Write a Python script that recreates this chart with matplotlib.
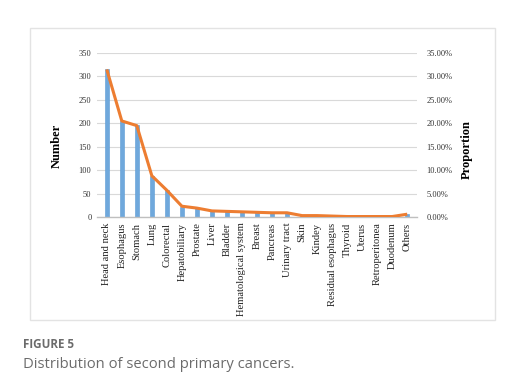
import matplotlib
matplotlib.use("Agg")
import matplotlib.pyplot as plt
from matplotlib.patches import Rectangle
from matplotlib.ticker import FuncFormatter

categories = ["Head and neck", "Esophagus", "Stomach", "Lung", "Colorectal",
              "Hepatobiliary", "Prostate", "Liver", "Bladder", "Hematological system",
              "Breast", "Pancreas", "Urinary tract", "Skin", "Kindey",
              "Residual esophagus", "Thyroid", "Uterus", "Retroperitonea", "Duodenum", "Others"]
numbers = [315, 205, 196, 88, 57, 22, 19, 13, 12, 11, 10, 9, 9, 3, 3, 2, 1, 1, 1, 1, 6]
proportions = [31.5, 20.5, 19.5, 8.8, 5.7, 2.3, 1.9, 1.3, 1.2, 1.1, 1.0, 0.9, 0.9,
               0.3, 0.3, 0.2, 0.1, 0.1, 0.1, 0.1, 0.6]

serif = ["Liberation Serif", "DejaVu Serif"]
fig = plt.figure(figsize=(5.21, 3.9), dpi=100)
fig.patch.set_facecolor("white")

fig.patches.append(Rectangle((30 / 521, 1 - 320 / 390), 465 / 521, 292 / 390,
                             transform=fig.transFigure, fill=False,
                             edgecolor="#e3e3e3", linewidth=1.0))

ax = fig.add_axes([97 / 521, 1 - 217 / 390, 320 / 521, 164 / 390])
x = list(range(len(categories)))
ax.bar(x, numbers, width=0.3, color="#6fa8dc", edgecolor="#5b9bd5", linewidth=0.4, zorder=2)
ax.set_ylim(0, 350)
ax.set_xlim(-0.65, len(categories) - 0.35)
ax.set_yticks(range(0, 351, 50))
ax.grid(axis="y", color="#d9d9d9", linewidth=0.8, zorder=0)
ax.set_axisbelow(True)
for s in ["top", "right", "left"]:
    ax.spines[s].set_visible(False)
ax.spines["bottom"].set_color("#bfbfbf")
ax.spines["bottom"].set_linewidth(1.0)
ax.tick_params(axis="both", length=0, pad=4)
ax.set_xticks(x)
ax.set_xticklabels(categories, rotation=90, fontfamily=serif, fontsize=7.6, color="#222222")
for lab in ax.get_yticklabels():
    lab.set_fontfamily(serif)
    lab.set_fontsize(6)
    lab.set_color("#333333")
ax.set_ylabel("Number", fontfamily=serif, fontsize=9, fontweight="bold")
ax.yaxis.set_label_coords(-0.106, 0.433)

ax2 = ax.twinx()
ax2.plot(x, proportions, color="#ed7d31", linewidth=2.2, zorder=3, solid_capstyle="butt")
ax2.set_ylim(0, 35)
ax2.set_yticks(range(0, 36, 5))
ax2.yaxis.set_major_formatter(FuncFormatter(lambda v, p: f"{v:.2f}%"))
for s in ["top", "right", "left", "bottom"]:
    ax2.spines[s].set_visible(False)
ax2.tick_params(axis="y", length=0, pad=7)
for lab in ax2.get_yticklabels():
    lab.set_fontfamily(serif)
    lab.set_fontsize(6)
    lab.set_color("#333333")
ax2.set_ylabel("Proportion", fontfamily=serif, fontsize=9, fontweight="bold")
ax2.yaxis.set_label_coords(1.1375, 0.41)

fig.text(23 / 521, 1 - 345 / 390, "FIGURE 5", fontfamily="Open Sans", fontsize=8.4,
         fontweight="bold", color="#6b6b6b", va="center", ha="left")
fig.text(23 / 521, 1 - 364 / 390, "Distribution of second primary cancers.",
         fontfamily="Open Sans", fontsize=10.6, color="#6b6b6b", va="center", ha="left")

fig.savefig("out.png", dpi=100, facecolor="white")
